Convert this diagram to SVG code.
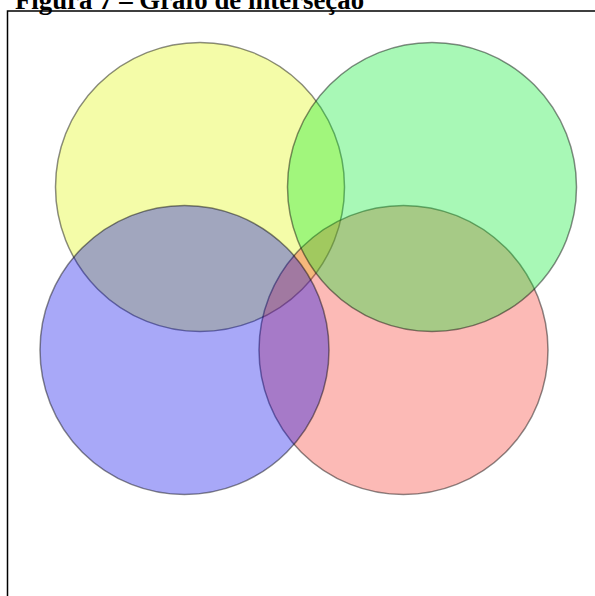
<svg xmlns="http://www.w3.org/2000/svg" width="595" height="596" viewBox="0 0 595 596">
<style>
.title{font-family:"Liberation Serif","Times New Roman",serif;font-weight:bold;font-size:26.8px;fill:#000}
.c{fill-opacity:0.34;stroke:#000;stroke-opacity:0.45;stroke-width:1.5}
</style>
<rect width="595" height="596" fill="#fff"/>
<text class="title" x="15" y="9">Figura 7 – Grafo de interseção</text>
<path d="M7.5,596 V11 H596" fill="none" stroke="#000" stroke-width="1.5"/>
<g id="yellow"><circle class="c" cx="200" cy="187" r="144.5" fill="#def600"/></g>
<g id="red"><circle class="c" cx="403.5" cy="350" r="144.5" fill="#f6362a"/></g>
<g id="blue"><circle class="c" cx="184.5" cy="350" r="144.5" fill="#0000ea"/></g>
<g id="green"><circle class="c" cx="432" cy="187" r="144.5" fill="#00ea2a"/></g>
<g id="connectors"></g>
</svg>
